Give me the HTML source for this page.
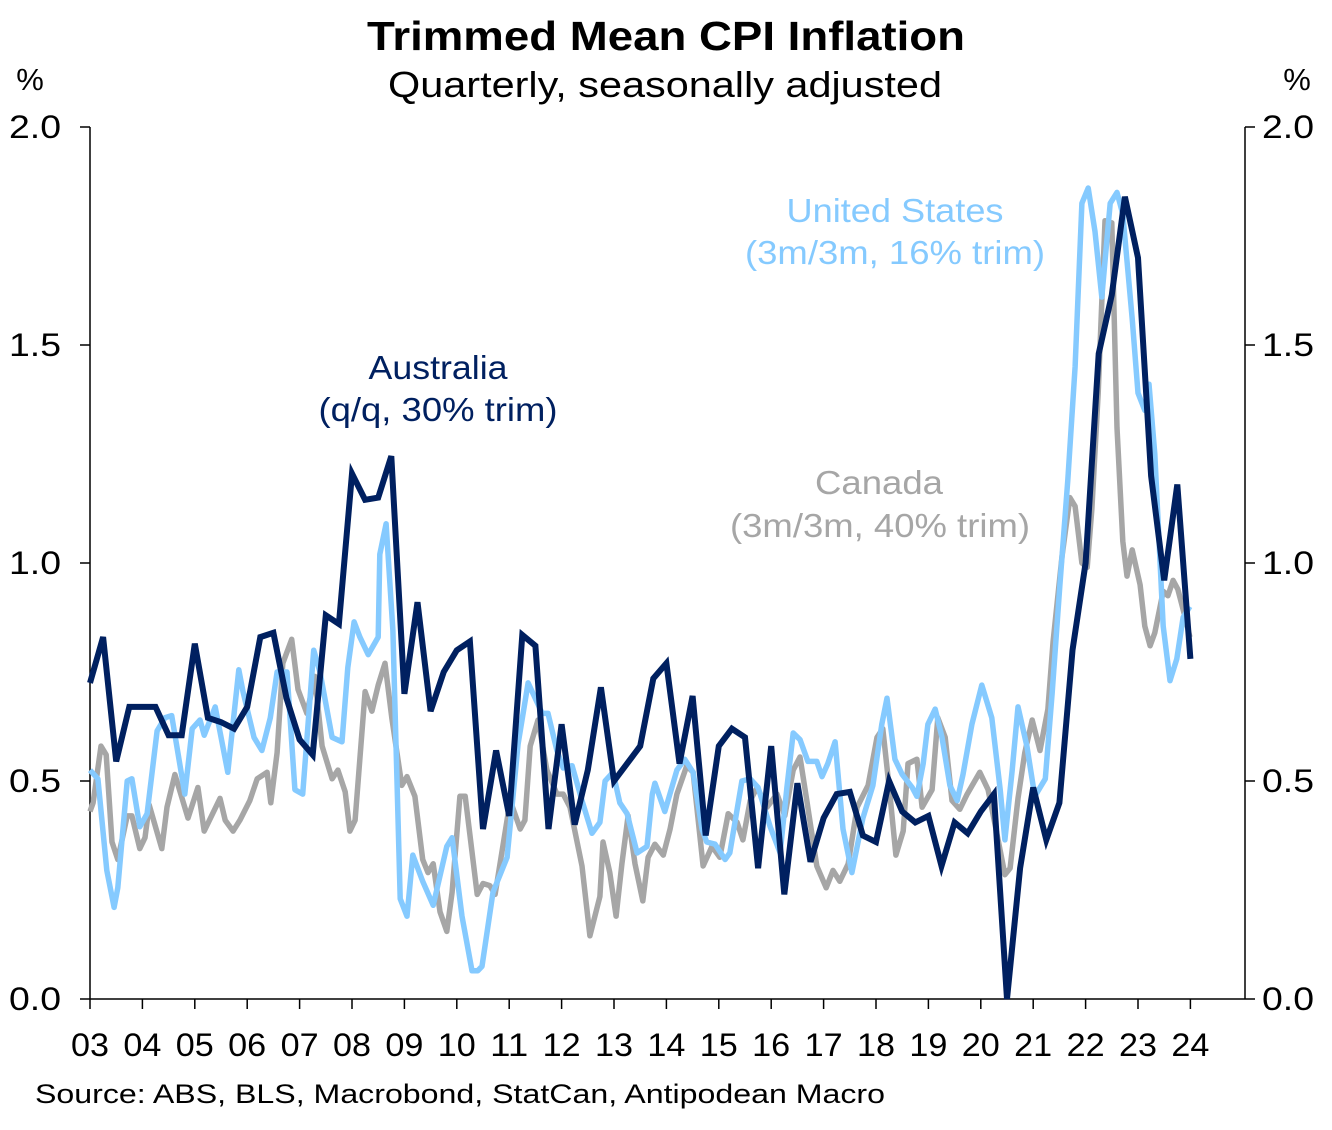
<!DOCTYPE html>
<html><head><meta charset="utf-8"><style>
body{margin:0;background:#fff;}
svg text{font-family:"Liberation Sans",Arial,sans-serif;}
</style></head><body>
<svg id="chart" width="1332" height="1125" viewBox="0 0 1332 1125" xmlns="http://www.w3.org/2000/svg">
<text x="666" y="50" text-anchor="middle" font-size="41" font-weight="bold" textLength="598" lengthAdjust="spacingAndGlyphs">Trimmed Mean CPI Inflation</text>
<text x="665" y="97" text-anchor="middle" font-size="36" textLength="554" lengthAdjust="spacingAndGlyphs">Quarterly, seasonally adjusted</text>
<text x="30" y="90" text-anchor="middle" font-size="31">%</text>
<text x="1297" y="90" text-anchor="middle" font-size="31">%</text>
<g id="axes"></g>
<g id="series"></g>
<text x="438" y="379" text-anchor="middle" font-size="33" fill="#002060" textLength="139" lengthAdjust="spacingAndGlyphs">Australia</text>
<text x="438" y="421" text-anchor="middle" font-size="33" fill="#002060" textLength="239" lengthAdjust="spacingAndGlyphs">(q/q, 30% trim)</text>
<text x="895" y="222" text-anchor="middle" font-size="33" fill="#85caff" textLength="217" lengthAdjust="spacingAndGlyphs">United States</text>
<text x="895" y="264" text-anchor="middle" font-size="33" fill="#85caff" textLength="300" lengthAdjust="spacingAndGlyphs">(3m/3m, 16% trim)</text>
<text x="879" y="494" text-anchor="middle" font-size="33" fill="#a6a6a6" textLength="128" lengthAdjust="spacingAndGlyphs">Canada</text>
<text x="880" y="537" text-anchor="middle" font-size="33" fill="#a6a6a6" textLength="300" lengthAdjust="spacingAndGlyphs">(3m/3m, 40% trim)</text>
<text x="35" y="1103" font-size="27" textLength="850" lengthAdjust="spacingAndGlyphs">Source: ABS, BLS, Macrobond, StatCan, Antipodean Macro</text>
</svg>
<script>
const yTicks=[0,0.5,1.0,1.5,2.0];
const yTickLabels=["0.0","0.5","1.0","1.5","2.0"];
const xYears=[3,4,5,6,7,8,9,10,11,12,13,14,15,16,17,18,19,20,21,22,23,24];
const xYearLabels=["03","04","05","06","07","08","09","10","11","12","13","14","15","16","17","18","19","20","21","22","23","24"];
const auValues=[.725,.83,.545,.67, .67,.67,.605,.605, .815,.645,.635,.62, .67,.83,.84,.69, .595,.56,.88,.86, 1.205,1.145,1.15,1.245, .70,.91,.66,.75, .80,.82,.39,.57, .42,.835,.81,.39, .63,.40,.525,.715, .50,.54,.58,.735, .77,.54,.695,.375, .58,.62,.60,.30, .58,.24,.495,.315, .415,.47,.475,.375, .36,.50,.43,.405, .42,.305,.405,.38, .43,.47,0,.30, .485,.365,.45,.80, 1.0,1.48,1.615,1.84, 1.70,1.20,.96,1.18, .78];
const usT=[0,.15,.32,.46,.53,.71,.80,.95,1.09,1.28, 1.43,1.56,1.81,1.95,2.10,2.18,2.39,2.63,2.84,2.92, 3.13,3.28,3.44,3.57,3.76,3.91,4.06,4.27,4.39,4.62, 4.81,4.92,5.04,5.15,5.31,5.50,5.53,5.65,5.78,5.92, 6.05,6.16,6.35,6.55,6.81,6.91,7.10,7.29,7.40,7.48, 7.69,7.96,8.17,8.36,8.63,8.74,8.91,9.03,9.20,9.39, 9.58,9.73,9.83,9.98,10.11,10.25,10.44,10.63,10.73,10.78, 10.97,11.20,11.35,11.51,11.68,11.77,11.93,12.12,12.21,12.44, 12.60,12.75,12.98,13.17,13.30,13.42,13.55,13.70,13.87,13.97, 14.08,14.22,14.37,14.54,14.75,14.94,15.11,15.21,15.36,15.50, 15.69,15.78,15.90,15.99,16.13,16.26,16.41,16.55,16.66,16.83, 17.02,17.21,17.37,17.46,17.60,17.71,17.88,18.03,18.23,18.36, 18.51,18.66,18.80,18.93,19.05,19.18,19.31,19.47,19.60,19.71, 19.89,20.00,20.13,20.21,20.32,20.48,20.61,20.74,20.86,20.99];
const usValues=[.525,.505,.295,.21,.255,.50,.505,.395,.425,.615, .645,.65,.47,.62,.64,.605,.67,.52,.755,.705, .60,.57,.645,.75,.75,.48,.47,.80,.75,.60, .59,.76,.865,.83,.79,.83,1.02,1.09,.845,.23, .19,.33,.27,.215,.35,.37,.19,.065,.065,.075, .245,.325,.585,.725,.655,.655,.57,.53,.535,.455, .38,.405,.50,.52,.45,.425,.335,.35,.47,.495, .43,.525,.55,.52,.39,.36,.355,.32,.335,.50, .505,.485,.395,.335,.485,.61,.595,.545,.545,.51, .54,.59,.39,.29,.415,.49,.63,.69,.55,.515, .485,.465,.54,.63,.665,.60,.49,.455,.515,.63, .72,.645,.48,.365,.525,.67,.58,.465,.505,.70, .95,1.19,1.45,1.825,1.86,1.76,1.61,1.825,1.85,1.80, 1.56,1.39,1.35,1.41,1.25,.855,.73,.78,.875,.90];
const caT=[0,.06,.21,.31,.42,.53,.71,.80,.95,1.05, 1.13,1.37,1.47,1.62,1.87,2.06,2.18,2.48,2.58,2.73, 2.86,3.05,3.19,3.38,3.45,3.57,3.68,3.85,3.97,4.14, 4.29,4.43,4.62,4.73,4.87,4.96,5.06,5.25,5.38,5.50, 5.63,5.76,5.95,6.05,6.20,6.35,6.45,6.55,6.68,6.81, 6.91,7.06,7.16,7.39,7.50,7.63,7.73,8.02,8.21,8.30, 8.40,8.55,8.72,8.91,9.03,9.16,9.39,9.54,9.73,9.79, 9.92,10.04,10.15,10.27,10.40,10.55,10.65,10.78,10.94,11.07, 11.20,11.39,11.51,11.70,11.87,12.02,12.18,12.35,12.46,12.60, 12.73,12.92,13.11,13.26,13.42,13.55,13.68,13.87,14.05,14.18, 14.31,14.47,14.64,14.85,15.02,15.13,15.27,15.38,15.52,15.61, 15.78,15.88,16.07,16.18,16.32,16.45,16.60,16.74,16.98,17.14, 17.33,17.46,17.56,17.71,17.84,17.98,18.13,18.28,18.38,18.55, 18.70,18.80,18.93,19.03,19.12,19.24,19.37,19.50,19.60,19.71, 19.79,19.89,20.04,20.13,20.23,20.32,20.48,20.57,20.67,20.76, 20.90,20.99];
const caValues=[.43,.45,.58,.56,.36,.32,.42,.42,.345,.37, .445,.345,.44,.515,.415,.485,.385,.46,.41,.385, .41,.455,.505,.52,.45,.565,.77,.825,.71,.655, .74,.58,.505,.525,.475,.385,.41,.705,.66,.72, .77,.645,.49,.51,.465,.32,.29,.31,.20,.155, .245,.465,.465,.24,.265,.26,.24,.455,.39,.41, .58,.64,.525,.47,.47,.44,.305,.145,.235,.36, .29,.19,.31,.42,.31,.225,.325,.355,.33,.39, .47,.535,.52,.305,.35,.325,.425,.405,.365,.455, .485,.44,.47,.42,.525,.555,.455,.305,.255,.295, .27,.31,.44,.49,.60,.62,.465,.33,.385,.54, .55,.44,.48,.645,.60,.455,.435,.47,.52,.48, .365,.285,.30,.46,.565,.64,.57,.665,.82,1.015, 1.15,1.13,1.00,.99,1.125,1.39,1.785,1.78,1.31,1.05, .97,1.03,.95,.855,.81,.84,.935,.925,.96,.94, .875,.83];

const NS="http://www.w3.org/2000/svg";
const X0=90,X1=1245,Y0=999,Y1=127,YEARPX=52.4;
function xScale(t){return X0+t*YEARPX;}           // t = years since 2003
function yScale(v){return Y0-(v-0)/(2.0-0)*(Y0-Y1);}
function mk(tag,attrs,parent){const e=document.createElementNS(NS,tag);for(const k in attrs)e.setAttribute(k,attrs[k]);parent.appendChild(e);return e;}
const axes=document.getElementById('axes');
let e;
e=mk('line',{x1:X0,y1:Y1,x2:X0,y2:Y0,stroke:'#000','stroke-width':1.5},axes);


e=mk('line',{x1:X1,y1:Y1,x2:X1,y2:Y0,stroke:'#000','stroke-width':1.5},axes);


e=mk('line',{x1:X0,y1:Y0,x2:X1,y2:Y0,stroke:'#000','stroke-width':1.5},axes);


yTicks.forEach((v,i)=>{
  const y=yScale(v);
  let t=mk('line',{x1:X0-10,y1:y,x2:X0,y2:y,stroke:'#000','stroke-width':1.5},axes);
  
  
  t=mk('line',{x1:X1,y1:y,x2:X1+10,y2:y,stroke:'#000','stroke-width':1.5},axes);
  
  
  let l=mk('text',{x:61,y:y+11,'text-anchor':'end','font-size':32,textLength:52,lengthAdjust:'spacingAndGlyphs'},axes);
  l.textContent=yTickLabels[i];
  
  
  l=mk('text',{x:1262,y:y+11,'text-anchor':'start','font-size':32,textLength:52,lengthAdjust:'spacingAndGlyphs'},axes);
  l.textContent=yTickLabels[i];
  
  
});
xYears.forEach((yr,i)=>{
  const x=xScale(yr-3);
  const t=mk('line',{x1:x,y1:Y0,x2:x,y2:Y0+10,stroke:'#000','stroke-width':1.5},axes);
  
  
  const l=mk('text',{x:x,y:1056,'text-anchor':'middle','font-size':32,textLength:38,lengthAdjust:'spacingAndGlyphs'},axes);
  l.textContent=xYearLabels[i];
  
  
});
const ser=document.getElementById('series');
function pathFrom(ts,vs){return ts.map((t,i)=>(i?'L':'M')+xScale(t).toFixed(1)+','+yScale(vs[i]).toFixed(1)).join(' ');}
const auT=auValues.map((v,i)=>i*0.25);
let p=mk('path',{d:pathFrom(caT,caValues),fill:'none',stroke:'#a6a6a6','stroke-width':5.5,'stroke-linejoin':'round'},ser);


p=mk('path',{d:pathFrom(usT,usValues),fill:'none',stroke:'#85caff','stroke-width':5.5,'stroke-linejoin':'round'},ser);


p=mk('path',{d:pathFrom(auT,auValues),fill:'none',stroke:'#002060','stroke-width':6,'stroke-linejoin':'miter'},ser);


</script>
</body></html>
